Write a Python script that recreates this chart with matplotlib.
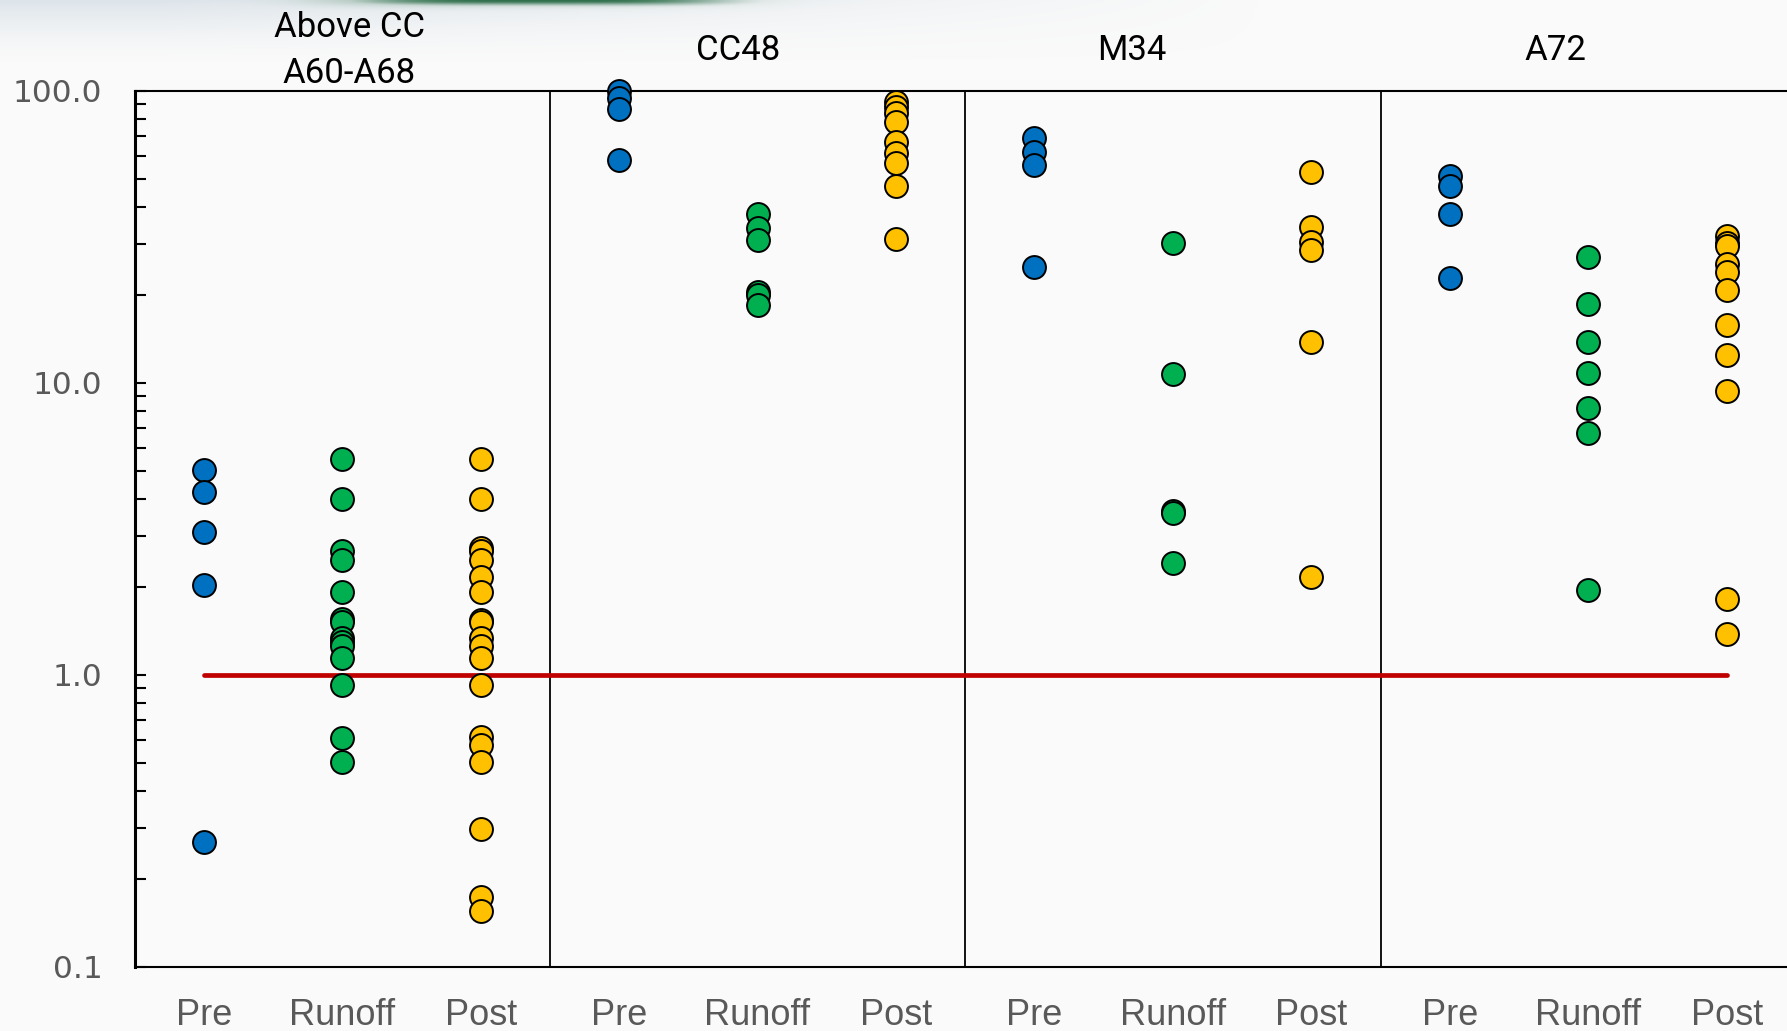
import numpy as np
import matplotlib.pyplot as plt
from matplotlib.ticker import FixedLocator, LogLocator, NullFormatter

# sampling sites and phases
groups = ["Above CC\nA60-A68", "CC48", "M34", "A72"]
phases = ["Pre", "Runoff", "Post"]

# measured values per site / phase
above_pre = [5.04, 4.24, 3.09, 2.03, 0.267]
above_runoff = [5.5, 4.01, 2.65, 2.48, 1.93, 1.55, 1.52, 1.34, 1.30, 1.26, 1.14, 0.924, 0.61, 0.505]
above_post = [5.5, 4.0, 2.72, 2.65, 2.48, 2.17, 1.93, 1.54, 1.52, 1.34, 1.26, 1.14, 0.924,
              0.615, 0.576, 0.505, 0.298, 0.174, 0.155]

cc48_pre = [100.0, 94.4, 86.8, 58.0]
cc48_runoff = [37.9, 33.9, 30.9, 20.5, 20.0, 18.5]
cc48_post = [91.9, 88.4, 83.9, 78.5, 67.0, 61.2, 56.6, 47.4, 31.1]

m34_pre = [68.9, 62.0, 55.8, 25.0]
m34_runoff = [30.1, 10.7, 3.65, 3.6, 2.41]
m34_post = [52.9, 34.1, 30.5, 28.5, 13.85, 2.17]

a72_pre = [51.3, 47.1, 38.0, 22.9]
a72_runoff = [27.0, 18.7, 13.8, 10.8, 8.22, 6.75, 1.95]
a72_post = [31.9, 30.2, 29.4, 25.5, 24.0, 20.8, 15.8, 12.5, 9.38, 1.82, 1.38]

series = [above_pre, above_runoff, above_post,
          cc48_pre, cc48_runoff, cc48_post,
          m34_pre, m34_runoff, m34_post,
          a72_pre, a72_runoff, a72_post]

threshold = 1.0
phase_colors = {"Pre": "#0070C0", "Runoff": "#00B050", "Post": "#FFC000"}
tick_labels = phases * len(groups)

W, H = 1787, 1031
bg = "#FAFAFA"
fig = plt.figure(figsize=(W / 100, H / 100), dpi=100, facecolor=bg)

# soft slide header haze at the very top
band_h = 80
hz = fig.add_axes([0, 1 - band_h / H, 1, band_h / H], zorder=0)
yy, xx = np.mgrid[0:band_h, 0:W]
img = np.ones((band_h, W, 4))
img[..., 0], img[..., 1], img[..., 2] = 0.78, 0.83, 0.87
fade_y = np.clip(1 - yy / 65.0, 0, 1) ** 1.6
fade_x = np.clip(1.15 - xx / 1100.0, 0, 1)
img[..., 3] = 0.55 * fade_y * fade_x
# dark green streak at the top edge
g = np.exp(-((xx - 540) / 210.0) ** 4) * np.exp(-(yy / 6.0) ** 2)
img[..., 0] = img[..., 0] * (1 - g) + 0.10 * g
img[..., 1] = img[..., 1] * (1 - g) + 0.38 * g
img[..., 2] = img[..., 2] * (1 - g) + 0.22 * g
img[..., 3] = np.maximum(img[..., 3], 0.9 * g)
hz.imshow(img, aspect="auto", interpolation="bilinear")
hz.axis("off")

left, right, top, bottom = 134.5, 1796, 91, 967
ax = fig.add_axes([left / W, 1 - bottom / H, (right - left) / W, (bottom - top) / H], zorder=1)
ax.set_facecolor(bg)

ax.set_yscale("log")
ax.set_ylim(0.1, 100)
ax.set_xlim(-0.5, len(series) - 0.5)

# threshold line across all sites
ax.plot([0, len(series) - 1], [threshold, threshold], color="#C00000", lw=3.4,
        solid_capstyle="round", zorder=2)

for i, vals in enumerate(series):
    c = phase_colors[tick_labels[i]]
    ax.plot([i] * len(vals), vals, "o", ms=16.5, mfc=c, mec="black", mew=1.4,
            zorder=3, clip_on=False)

# site separators
for s in range(1, len(groups)):
    ax.axvline(s * 3 - 0.5, color="black", lw=1.3, zorder=1)

for sp in ax.spines.values():
    sp.set_linewidth(1.5)
ax.spines["left"].set_linewidth(2.2)

ax.yaxis.set_major_locator(FixedLocator([0.1, 1, 10, 100]))
ax.yaxis.set_minor_locator(LogLocator(base=10, subs=np.arange(2, 10)))
ax.yaxis.set_minor_formatter(NullFormatter())
ax.set_yticklabels(["0.1", "1.0", "10.0", "100.0"])
ax.tick_params(axis="y", which="both", direction="in", length=8, width=1.5,
               labelsize=22.5, labelcolor="#595959", pad=23)
for t in ax.get_yticklabels():
    t.set_fontfamily("DejaVu Sans")

ax.set_xticks(range(len(series)))
ax.set_xticklabels(tick_labels)
ax.tick_params(axis="x", length=0, labelsize=26, labelcolor="#595959", pad=22)
for t in ax.get_xticklabels():
    t.set_fontfamily("Liberation Sans")

# site names above each panel
group_x = [1.05, 3.86, 6.70, 9.76]
for gx, name in zip(group_x, groups):
    ax.text(gx, 1.046, name, transform=ax.get_xaxis_transform(), ha="center", va="center",
            fontsize=25, family=["Roboto", "DejaVu Sans"], fontstretch="condensed",
            color="black", linespacing=1.5)

fig.savefig("out.png", dpi=100, facecolor=bg)
